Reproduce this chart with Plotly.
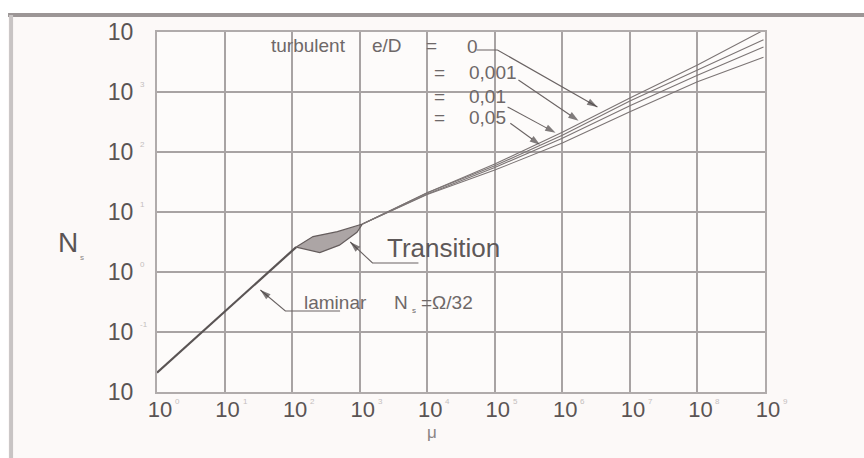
import plotly.graph_objects as go

# ---------------- data ----------------
# log axes: mu from 10^0 to 10^9, N from 10^-2 to 10^4
x_tick_exp = [0, 1, 2, 3, 4, 5, 6, 7, 8, 9]
y_tick_exp = [-2, -1, 0, 1, 2, 3, 4]

laminar_mu = [1.0, 115.0]
laminar_N = [0.021, 2.6]

trans_upper_mu = [115.0, 204.0, 468.0, 912.0, 1100.0]
trans_upper_N = [2.6, 3.9, 4.7, 6.0, 6.3]
trans_lower_mu = [115.0, 257.0, 501.0, 912.0, 1100.0]
trans_lower_N = [2.6, 2.1, 2.8, 4.6, 6.3]

turb_mu = [1100.0, 1e4, 1e5, 1e6, 1e7, 1e8, 9.5e8]
turb_N_e0 = [6.3, 21.0, 63.0, 214.0, 794.0, 2820.0, 10700.0]
turb_N_e0001 = [6.3, 21.0, 59.0, 190.0, 710.0, 2340.0, 7400.0]
turb_N_e001 = [6.3, 20.0, 55.0, 170.0, 590.0, 1900.0, 5600.0]
turb_N_e005 = [6.3, 19.5, 50.0, 141.0, 470.0, 1480.0, 3800.0]

roughness_labels = ["0", "0,001", "0,01", "0,05"]

FONT = "Liberation Sans, Arial, Helvetica, sans-serif"
LINE = "#5a5454"
TXT = "#6e6868"
FAINT = "#c4bebe"

fig = go.Figure()

# transition band
fig.add_trace(go.Scatter(
    x=trans_upper_mu + trans_lower_mu[::-1],
    y=trans_upper_N + trans_lower_N[::-1],
    mode="lines", fill="toself", fillcolor="rgba(105,95,95,0.55)",
    line=dict(color="#655d5d", width=1.2), hoverinfo="skip", showlegend=False))

# laminar
fig.add_trace(go.Scatter(x=laminar_mu, y=laminar_N, mode="lines",
                         line=dict(color=LINE, width=2.2), showlegend=False))

# turbulent lines
for ys in [turb_N_e0, turb_N_e0001, turb_N_e001, turb_N_e005]:
    fig.add_trace(go.Scatter(x=turb_mu, y=ys, mode="lines",
                             line=dict(color="#7c7575", width=1.1),
                             showlegend=False))


def leader(pts_log):
    """Leader line through points given in log10 units; arrow at last point."""
    xs = [10.0 ** p[0] for p in pts_log]
    ys = [10.0 ** p[1] for p in pts_log]
    n = len(xs)
    fig.add_trace(go.Scatter(
        x=xs, y=ys, mode="lines+markers",
        line=dict(color="#6a6363", width=1.1),
        marker=dict(symbol=["circle"] * (n - 1) + ["arrow"],
                    size=[0] * (n - 1) + [11], color="#4a4444",
                    angleref="previous", line=dict(width=0)),
        hoverinfo="skip", showlegend=False))


# leaders for roughness values
leader([(4.73, 3.70), (5.04, 3.70), (6.52, 2.75)])
leader([(5.35, 3.20), (6.24, 2.52)])
leader([(5.19, 2.75), (5.90, 2.32)])
leader([(5.23, 2.48), (5.67, 2.12)])
# laminar / transition leaders
leader([(2.71, -0.65), (1.90, -0.65), (1.53, -0.30)])
leader([(3.87, 0.15), (3.19, 0.15), (2.86, 0.50)])

annotations = []


def txt(x, y, s, size=19, xanchor="left", color=TXT, xshift=0, yshift=0):
    annotations.append(dict(x=x, y=y, xref="x", yref="y", text=s,
                            showarrow=False, xanchor=xanchor, yanchor="middle",
                            xshift=xshift, yshift=yshift,
                            font=dict(family=FONT, size=size, color=color)))


# faint exponents of the tick labels
for e in x_tick_exp:
    annotations.append(dict(x=e, y=0, xref="x", yref="paper", text=str(e),
                            showarrow=False, xanchor="left", yanchor="middle",
                            xshift=16, yshift=-9,
                            font=dict(family=FONT, size=8, color=FAINT)))
for e in y_tick_exp[1:-1]:
    annotations.append(dict(x=0, y=e, xref="paper", yref="y", text=str(e),
                            showarrow=False, xanchor="left", yanchor="middle",
                            xshift=-19, yshift=8,
                            font=dict(family=FONT, size=8, color=FAINT)))

# turbulent header
txt(2.24, 3.78, "turbulent", xanchor="center")
txt(3.41, 3.78, "e/D", xanchor="center")
txt(4.07, 3.78, "=", xanchor="center")
txt(4.56, 3.76, roughness_labels[0])
for yy, lab in zip([3.33, 2.92, 2.58], roughness_labels[1:]):
    txt(4.18, yy, "=", xanchor="center")
    txt(4.59, yy, lab)

# laminar label
txt(2.15, -0.5, "laminar")
txt(3.48, -0.5, "N")
txt(3.48, -0.5, "s", size=8, xshift=18, yshift=-8)
txt(3.48, -0.5, "=Ω/32", xshift=27)

# transition label
txt(3.37, 0.4, "Transition", size=26, color="#5e5858")

# axis titles as horizontal text
annotations.append(dict(x=-0.147, y=0.414, xref="paper", yref="paper",
                        text="N", showarrow=False, xanchor="center",
                        font=dict(family=FONT, size=28, color="#5a5454")))
annotations.append(dict(x=-0.147, y=0.414, xref="paper", yref="paper",
                        text="s", showarrow=False, xanchor="left",
                        xshift=10, yshift=-15,
                        font=dict(family=FONT, size=8, color="#8a8484")))
annotations.append(dict(x=0.452, y=-0.145, xref="paper", yref="paper",
                        text="μ", showarrow=False,
                        font=dict(family=FONT, size=17, color="#8a8484")))

shapes = [
    dict(type="rect", xref="paper", yref="paper", x0=-0.3, x1=1.2,
         y0=1.047, y1=1.2, fillcolor="white", line=dict(width=0), layer="below"),
    dict(type="rect", xref="paper", yref="paper", x0=-0.3, x1=-0.245,
         y0=-0.3, y1=1.2, fillcolor="white", line=dict(width=0), layer="below"),
    dict(type="line", xref="paper", yref="paper", x0=-0.245, x1=1.2,
         y0=1.047, y1=1.047, line=dict(color="#9c9696", width=4)),
    dict(type="line", xref="paper", yref="paper", x0=-0.24, x1=-0.24,
         y0=-0.3, y1=1.047, line=dict(color="#c8c4c4", width=4)),
]

grid = "#a8a3a3"
fig.update_layout(
    width=864, height=458,
    margin=dict(l=157, r=99, t=32, b=66),
    paper_bgcolor="#fcf9f8", plot_bgcolor="#fdfbfa",
    font=dict(family=FONT, color="#5a5454"),
    showlegend=False,
    annotations=annotations, shapes=shapes,
    xaxis=dict(type="log", range=[0, 9], tickvals=[10.0 ** e for e in x_tick_exp],
               ticktext=["10"] * len(x_tick_exp), showgrid=True, gridcolor=grid,
               gridwidth=1.6, showline=True, mirror=True, linecolor="#b0abab",
               linewidth=2, ticks="", tickfont=dict(size=22, color="#5a5454"),
               ticklabelshift=3, ticklabelstandoff=-3,
               zeroline=False, minor=dict(showgrid=False)),
    yaxis=dict(type="log", range=[-2, 4], tickvals=[10.0 ** e for e in y_tick_exp],
               ticktext=["10"] * len(y_tick_exp), showgrid=True, gridcolor=grid,
               gridwidth=1.6, showline=True, mirror=True, linecolor="#b0abab",
               linewidth=2, ticks="", tickfont=dict(size=23, color="#5a5454"),
               ticklabelstandoff=17, zeroline=False, minor=dict(showgrid=False)),
)

fig.write_html("out.html")
